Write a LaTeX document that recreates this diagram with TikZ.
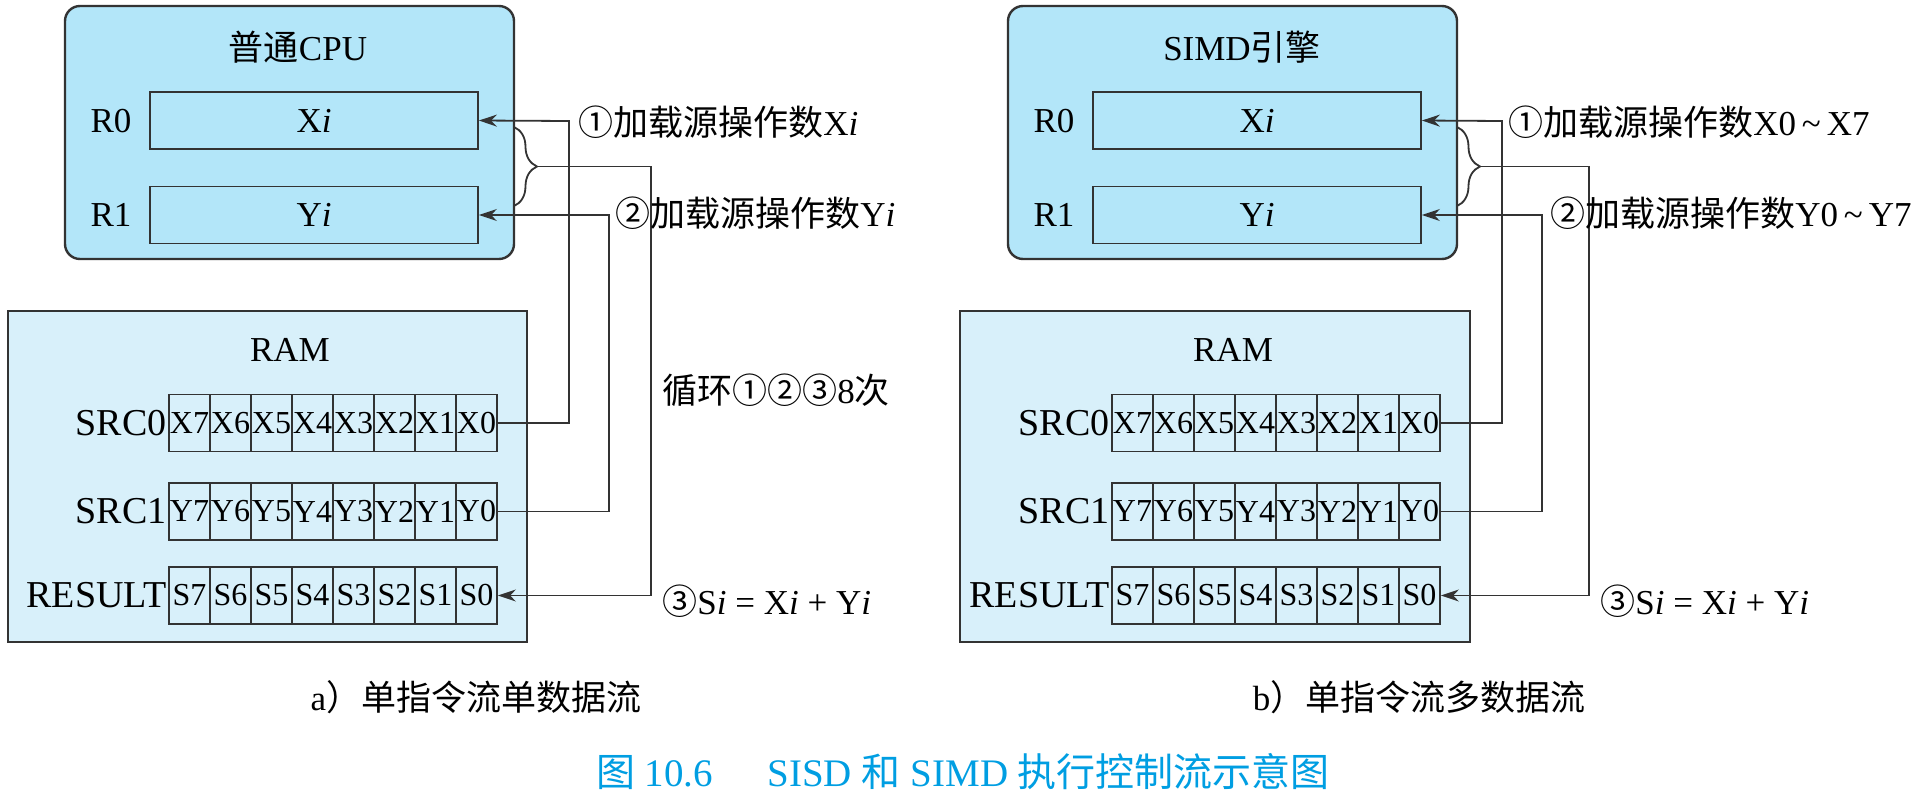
\documentclass[tikz,border=0pt]{standalone}
\usepackage{fontspec}
\setmainfont{Liberation Serif}
\newfontfamily\cjk{Noto Sans CJK SC}
\usetikzlibrary{arrows.meta,decorations.pathreplacing}

\definecolor{cpufill}{HTML}{B3E6F9}
\definecolor{ramfill}{HTML}{D8F0FA}
\definecolor{linegray}{HTML}{333333}
\definecolor{capblue}{HTML}{009EE2}

\tikzset{
  cpubox/.style={draw=linegray, line width=1.2pt, fill=cpufill, rounded corners=7.5pt,
    minimum width=224.5pt, minimum height=126.5pt},
  rambox/.style={draw=linegray, line width=1.2pt, fill=ramfill, minimum height=165.5pt},
  regbox/.style={draw=linegray, line width=0.9pt, minimum width=164pt, minimum height=28.5pt},
  cell/.style={draw=linegray, line width=0.9pt, fill=ramfill, minimum width=20.5pt,
    minimum height=28.5pt, inner sep=0pt, font=\fontsize{16}{18}\selectfont},
  rowlabel/.style={inner sep=0pt, anchor=east, font=\fontsize{19}{22}\selectfont},
  flow/.style={draw=linegray, line width=0.9pt, ->},
  curly/.style={draw=linegray, line width=0.9pt, decorate,
    decoration={brace, amplitude=11.5pt}},
  txt/.style={inner sep=0pt},
}

\begin{document}
\begin{tikzpicture}[x=0.5pt, y=-0.5pt, >={Stealth[length=9pt,width=6pt]},
    font=\fontsize{17.5}{21}\selectfont]
  \useasboundingbox (0,0) rectangle (1929,798);

  % a) SISD
  \node[cpubox] (cpua) at (289.5,132.5) {};
  \node[txt] (titlea) at (298,47) {{\cjk 普通}CPU};
  \node[regbox] (rega0) at (314,120.5) {X\textit{i}};
  \node[regbox] (rega1) at (314,215) {Y\textit{i}};
  \node[txt] (ra0) at (111,121) {R0};
  \node[txt] (ra1) at (111,215) {R1};

  \node[rambox, minimum width=259.5pt] (rama) at (267.5,476.5) {};
  \node[txt] (ramla) at (290,350) {RAM};
  \foreach \k in {0,...,7}{
    \pgfmathtruncatemacro\n{7-\k}
    \node[cell] (xa-\n) at ({189.5+41*\k},423) {X\n};
    \node[cell] (ya-\n) at ({189.5+41*\k},511.5) {Y\n};
    \node[cell] (sa-\n) at ({189.5+41*\k},595.5) {S\n};
  }
  \node[rowlabel] (srca0) at (167,423) {SRC0};
  \node[rowlabel] (srca1) at (167,511.5) {SRC1};
  \node[rowlabel] (resa) at (167,595.5) {RESULT};

  \coordinate (busa0) at (569,121);
  \coordinate (busa1) at (609,215);
  \coordinate (busa2) at (651,595.5);
  \coordinate (bra0) at (514,127);
  \coordinate (bra1) at (514,206);
  \coordinate (tipa) at (537,166.5);
  \draw[flow] (xa-0.east) -| (busa0) -- (rega0.east);
  \draw[flow] (ya-0.east) -| (busa1) -- (rega1.east);
  \draw[curly] (bra0) -- (bra1);
  \draw[flow] (tipa) -| (busa2) -- (sa-0.east);

  \node[txt, anchor=west] (stepa1) at (578,122) {{\cjk ①加载源操作数}X\textit{i}};
  \node[txt, anchor=west] (stepa2) at (615,213) {{\cjk ②加载源操作数}Y\textit{i}};
  \node[txt, anchor=west] (loopa) at (662,390) {{\cjk 循环①②③}8{\cjk 次}};
  \node[txt, anchor=west] (stepa3) at (662,601) {{\cjk ③}S\textit{i} = X\textit{i} + Y\textit{i}};

  % b) SIMD
  \node[cpubox] (cpub) at (1232.5,132.5) {};
  \node[txt] (titleb) at (1242,47) {SIMD{\cjk 引擎}};
  \node[regbox] (regb0) at (1257,120.5) {X\textit{i}};
  \node[regbox] (regb1) at (1257,215) {Y\textit{i}};
  \node[txt] (rb0) at (1054,121) {R0};
  \node[txt] (rb1) at (1054,215) {R1};

  \node[rambox, minimum width=255pt] (ramb) at (1215,476.5) {};
  \node[txt] (ramlb) at (1233,350) {RAM};
  \foreach \k in {0,...,7}{
    \pgfmathtruncatemacro\n{7-\k}
    \node[cell] (xb-\n) at ({1132.5+41*\k},423) {X\n};
    \node[cell] (yb-\n) at ({1132.5+41*\k},511.5) {Y\n};
    \node[cell] (sb-\n) at ({1132.5+41*\k},595.5) {S\n};
  }
  \node[rowlabel] (srcb0) at (1110,423) {SRC0};
  \node[rowlabel] (srcb1) at (1110,511.5) {SRC1};
  \node[rowlabel] (resb) at (1110,595.5) {RESULT};

  \coordinate (busb0) at (1502,121);
  \coordinate (busb1) at (1542,215);
  \coordinate (busb2) at (1589,595.5);
  \coordinate (brb0) at (1457,127);
  \coordinate (brb1) at (1457,206);
  \coordinate (tipb) at (1480,166.5);
  \draw[flow] (xb-0.east) -| (busb0) -- (regb0.east);
  \draw[flow] (yb-0.east) -| (busb1) -- (regb1.east);
  \draw[curly] (brb0) -- (brb1);
  \draw[flow] (tipb) -| (busb2) -- (sb-0.east);

  \node[txt, anchor=west] (stepb1) at (1508,122) {{\cjk ①加载源操作数}X0\,\textasciitilde\,X7};
  \node[txt, anchor=west] (stepb2) at (1550,213) {{\cjk ②加载源操作数}Y0\,\textasciitilde\,Y7};
  \node[txt, anchor=west] (stepb3) at (1600,601) {{\cjk ③}S\textit{i} = X\textit{i} + Y\textit{i}};

  % captions
  \node[txt] (capa) at (476,697) {a{\cjk ）单指令流单数据流}};
  \node[txt] (capb) at (1419,697) {b{\cjk ）单指令流多数据流}};
  \node[txt, text=capblue, font=\fontsize{19.5}{23}\selectfont] (figcap) at (963,772)
    {{\cjk 图}\ 10.6\hspace{1.4em}SISD\ {\cjk 和}\ SIMD\ {\cjk 执行控制流示意图}};
\end{tikzpicture}
\end{document}
